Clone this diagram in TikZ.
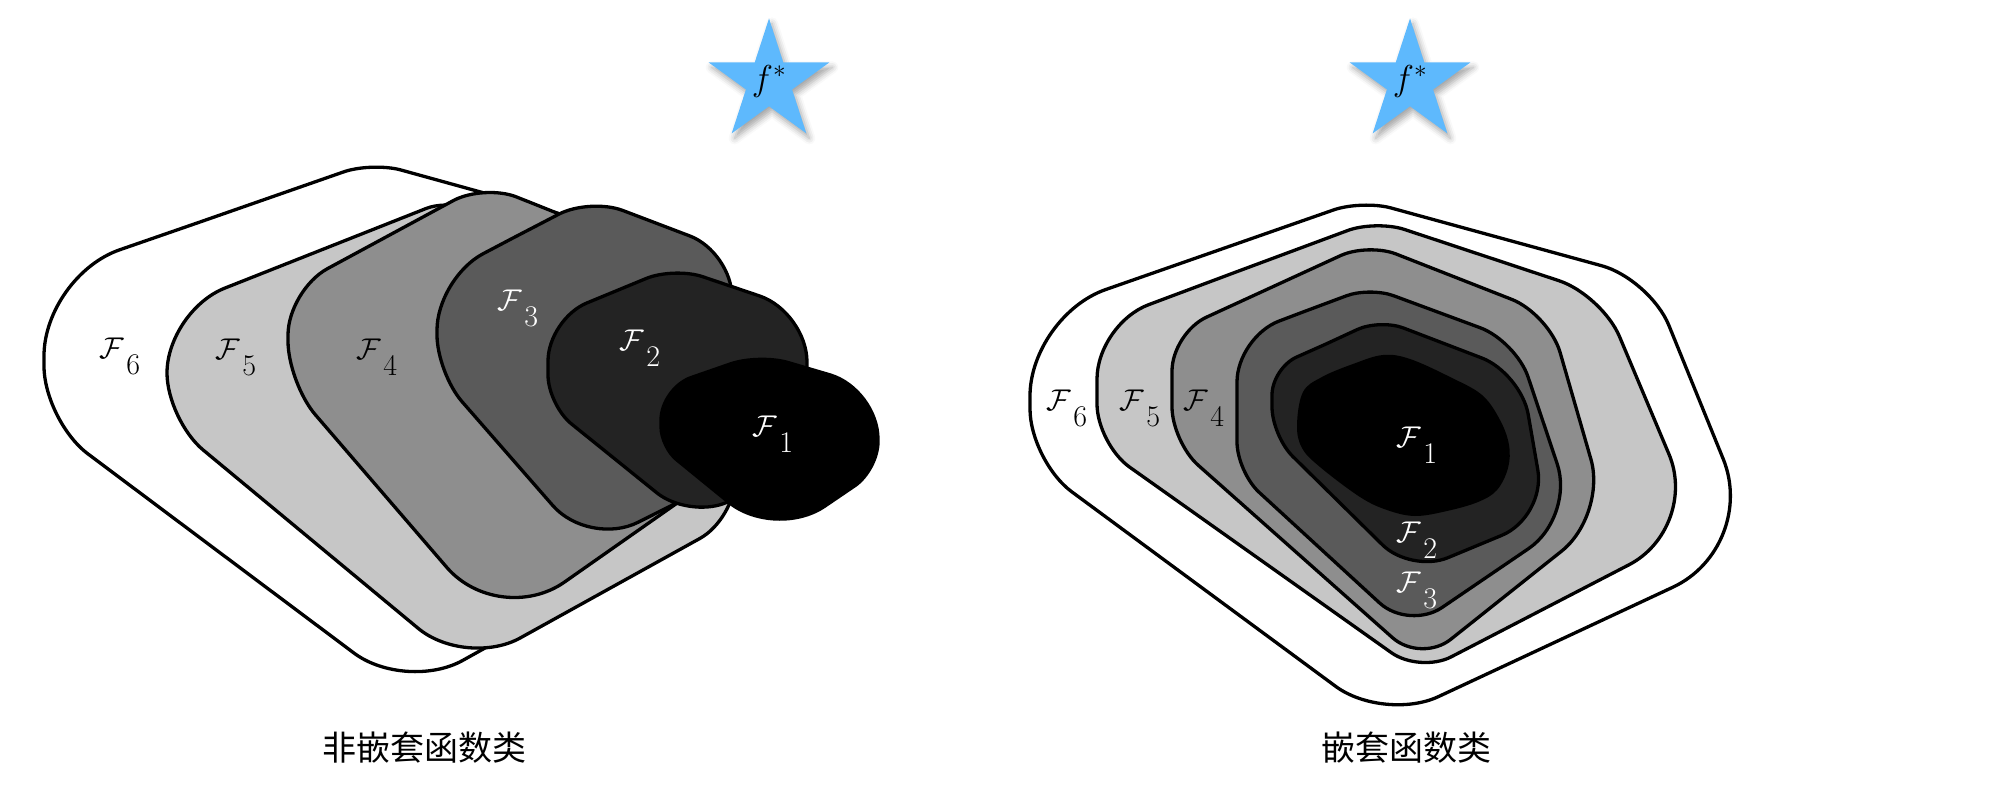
\documentclass[tikz,border=0pt]{standalone}
\usepackage{fix-cm}
\usepackage{fontspec}
\newfontfamily\cjk{Noto Sans CJK SC}
\usetikzlibrary{shapes.geometric, shadows.blur}
\definecolor{clsFive}{HTML}{C6C6C6}
\definecolor{clsFour}{HTML}{8E8E8E}
\definecolor{clsThree}{HTML}{5A5A5A}
\definecolor{clsTwo}{HTML}{232323}
\definecolor{clsOne}{HTML}{000000}
\definecolor{starBlue}{HTML}{5EB9FD}
\newcommand{\fcls}[1]{$\mathcal{F}$\kern2pt\raisebox{-16pt}{#1}}

\begin{document}
\begin{tikzpicture}[x=1pt, y=-1pt,
  cls/.style={draw=black, line width=3.3pt, line join=round},
  lbl/.style={inner sep=0pt, font=\fontsize{30}{34}\selectfont},
  lblw/.style={lbl, text=white},
  fstar/.style={star, star points=5, star point ratio=2.618, fill=starBlue, minimum size=121pt, inner sep=0pt,
    font=\fontsize{36}{40}\selectfont,
    blur shadow={shadow xshift=3pt, shadow yshift=-5pt, shadow blur radius=6pt, shadow opacity=35}},
  captext/.style={inner sep=0pt, font=\cjk\fontsize{34}{40}\selectfont}
]
\useasboundingbox (0,0) rectangle (2010,794);

% non-nested classes
\filldraw[cls, fill=white] (200,222) [rounded corners=30pt] -- (372,162) [rounded corners=30pt] -- (600,225)
  [rounded corners=30pt] -- (600,584) [rounded corners=65pt] -- (406,692) [rounded corners=55pt] -- (44,421)
  [rounded corners=80pt] -- (44,276) [sharp corners] -- cycle;
\filldraw[cls, fill=clsFive] (306,256) [rounded corners=20pt] -- (445,201) [rounded corners=30pt] -- (735,300)
  [rounded corners=40pt] -- (735,519) [rounded corners=62pt] -- (466,668) [rounded corners=47pt] -- (167,420)
  [rounded corners=62pt] -- (167,311) [sharp corners] -- cycle;
\filldraw[cls, fill=clsFour] (386,237) [rounded corners=35pt] -- (484,184) [rounded corners=30pt] -- (720,278)
  [rounded corners=30pt] -- (720,473) [rounded corners=80pt] -- (499,628) [rounded corners=42pt] -- (288,383)
  [rounded corners=45pt] -- (288,290) [sharp corners] -- cycle;
\filldraw[cls, fill=clsThree] (513,238) [rounded corners=35pt] -- (590,198) [rounded corners=45pt] -- (732,252)
  [rounded corners=30pt] -- (732,475) [rounded corners=55pt] -- (589,547) [rounded corners=38pt] -- (437,373)
  [rounded corners=52pt] -- (437,278) [sharp corners] -- cycle;
\filldraw[cls, fill=clsTwo] (611,293) [rounded corners=30pt] -- (674,267) [rounded corners=50pt] -- (807,312)
  [rounded corners=30pt] -- (807,470) [rounded corners=40pt] -- (688,518) [rounded corners=30pt] -- (548,405)
  [rounded corners=42pt] -- (548,319) [sharp corners] -- cycle;
\filldraw[cls, fill=clsOne] (710,371) [rounded corners=30pt] -- (759,354) [rounded corners=50pt] -- (878,389)
  [rounded corners=28pt] -- (878,470) [rounded corners=60pt] -- (775,540) [rounded corners=20pt] -- (661,447)
  [rounded corners=32pt] -- (661,388) [sharp corners] -- cycle;

\node[lbl] (l6) at (120,356) {\fcls{6}};
\node[lbl] (l5) at (236,357) {\fcls{5}};
\node[lbl] (l4) at (377,357) {\fcls{4}};
\node[lblw] (l3) at (518,308) {\fcls{3}};
\node[lblw] (l2) at (640,348) {\fcls{2}};
\node[lblw] (l1) at (773,434) {\fcls{1}};

% nested classes
\filldraw[cls, fill=white] (1196,258) [rounded corners=30pt] -- (1362,200) [rounded corners=50pt] -- (1650,279)
  [rounded corners=95pt] -- (1759,547) [rounded corners=60pt] -- (1384,722) [rounded corners=52pt] -- (1030,461)
  [rounded corners=80pt] -- (1030,316) [sharp corners] -- cycle;
\filldraw[cls, fill=clsFive] (1236,272) [rounded corners=30pt] -- (1376,220) [rounded corners=45pt] -- (1602,295)
  [rounded corners=80pt] -- (1700,528) [rounded corners=35pt] -- (1420,673) [rounded corners=40pt] -- (1097,444)
  [rounded corners=55pt] -- (1097,324) [sharp corners] -- cycle;
\filldraw[cls, fill=clsFour] (1270,288) [rounded corners=30pt] -- (1368,243) [rounded corners=40pt] -- (1549,314)
  [rounded corners=58pt] -- (1607,515) [rounded corners=38pt] -- (1421,663) [rounded corners=35pt] -- (1172,442)
  [rounded corners=38pt] -- (1172,333) [sharp corners] -- cycle;
\filldraw[cls, fill=clsThree] (1303,312) [rounded corners=25pt] -- (1370,287) [rounded corners=38pt] -- (1516,341)
  [rounded corners=56pt] -- (1575,517) [rounded corners=40pt] -- (1409,630) [rounded corners=30pt] -- (1237,472)
  [rounded corners=45pt] -- (1237,337) [sharp corners] -- cycle;
\filldraw[cls, fill=clsTwo] (1326,344) [rounded corners=25pt] -- (1380,319) [rounded corners=42pt] -- (1521,373)
  [rounded corners=48pt] -- (1546,517) [rounded corners=40pt] -- (1411,573) [rounded corners=29pt] -- (1272,436)
  [rounded corners=27pt] -- (1272,368) [sharp corners] -- cycle;
\fill[clsOne] plot[smooth cycle, tension=0.6] coordinates {(1297,425) (1303,392) (1322,377) (1353,364)
  (1383,355) (1410,359) (1450,377) (1482,395) (1500,420) (1509,445) (1508,468) (1497,490) (1478,502)
  (1447,511) (1415,516) (1387,510) (1360,497) (1320,467) (1302,448)};

\node[lbl] (r6) at (1067,408) {\fcls{6}};
\node[lbl] (r5) at (1140,408) {\fcls{5}};
\node[lbl] (r4) at (1204,408) {\fcls{4}};
\node[lblw] (r1) at (1417,445) {\fcls{1}};
\node[lblw] (r2) at (1417,540) {\fcls{2}};
\node[lblw] (r3) at (1417,590) {\fcls{3}};

% targets and captions
\node[fstar] (lstar) at (769,82) {$f^*$};
\node[fstar] (rstar) at (1410,82) {$f^*$};
\node[captext] (lcap) at (424,748) {\cjk 非嵌套函数类};
\node[captext] (rcap) at (1406,748) {\cjk 嵌套函数类};
\end{tikzpicture}
\end{document}
